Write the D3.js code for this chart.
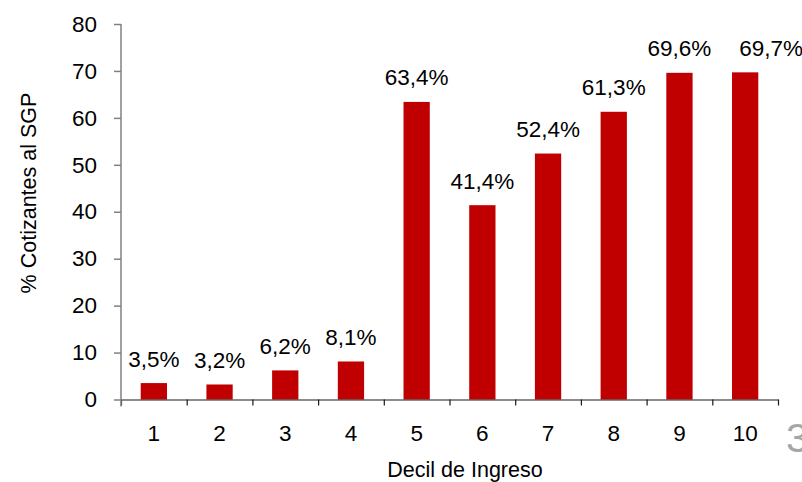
<!DOCTYPE html>
<html>
<head>
<meta charset="utf-8">
<script src="https://cdn.jsdelivr.net/npm/d3@7"></script>
<style>
  html, body { margin: 0; padding: 0; background: #fff; }
  svg { display: block; }
  text { font-family: "Liberation Sans", Arial, sans-serif; fill: #000; }
</style>
</head>
<body>
<svg id="chart" width="802" height="482"></svg>
<script>
// Share of contributors to the pension system by income decile
const deciles = ["1", "2", "3", "4", "5", "6", "7", "8", "9", "10"];
const cotizantes = [3.5, 3.2, 6.2, 8.1, 63.4, 41.4, 52.4, 61.3, 69.6, 69.7];
const yTicks = [0, 10, 20, 30, 40, 50, 60, 70, 80];

const svg = d3.select("#chart");
const plotLeft = 121, plotRight = 778, plotTop = 24, plotBottom = 399.5;

const x = d3.scaleBand()
  .domain(deciles)
  .range([plotLeft, plotRight])
  .paddingInner(0.6)
  .paddingOuter(0.3);

// boundaries between categories, for the tick marks under the axis
const xEdges = d3.scaleLinear().domain([0, deciles.length]).range([plotLeft, plotRight]);

const y = d3.scaleLinear().domain([0, 80]).range([plotBottom, plotTop]);

const fmt = v => d3.format(".1f")(v).replace(".", ",") + "%";

// bars
svg.append("g")
  .selectAll("rect")
  .data(deciles)
  .join("rect")
  .attr("x", d => x(d))
  .attr("width", x.bandwidth())
  .attr("y", (d, i) => y(cotizantes[i]))
  .attr("height", (d, i) => y(0) - y(cotizantes[i]))
  .attr("fill", "#c00000");

// value labels; the last one is nudged right, away from its neighbour
const lastIdx = deciles.length - 1;
svg.append("g")
  .selectAll("text")
  .data(deciles)
  .join("text")
  .attr("x", (d, i) => x(d) + x.bandwidth() / 2 + (i === lastIdx ? 26 : 0))
  .attr("y", (d, i) => y(cotizantes[i]) - 16.5)
  .attr("text-anchor", "middle")
  .style("font-size", "22.5px")
  .text((d, i) => fmt(cotizantes[i]));

// x axis: line and category boundary ticks
const xAxis = svg.append("g")
  .attr("transform", `translate(0,${plotBottom})`)
  .call(d3.axisBottom(xEdges)
    .tickValues(d3.range(0, deciles.length + 1))
    .tickSize(6)
    .tickSizeOuter(0)
    .tickFormat(""));
xAxis.select(".domain").attr("stroke", "#1a1a1a").attr("stroke-width", 1.2);
xAxis.selectAll(".tick line").attr("stroke", "#1a1a1a").attr("stroke-width", 1.2);

// category labels
const xLab = svg.append("g")
  .attr("transform", `translate(0,${plotBottom})`)
  .call(d3.axisBottom(x).tickSize(0).tickPadding(0));
xLab.select(".domain").remove();
xLab.selectAll("text")
  .attr("y", 41.5)
  .attr("dy", null)
  .style("font-size", "22.5px")
  .style("font-family", "'Liberation Sans', Arial, sans-serif")
  .attr("fill", "#000");

// y axis
const yAxis = svg.append("g")
  .attr("transform", `translate(${plotLeft},0)`)
  .call(d3.axisLeft(y)
    .tickValues(yTicks)
    .tickSize(7)
    .tickSizeOuter(0)
    .tickPadding(17));
yAxis.select(".domain")
  .attr("d", `M0,${plotTop}V${plotBottom + 7}`)
  .attr("stroke", "#808080")
  .attr("stroke-width", 1.5);
yAxis.selectAll(".tick line").attr("stroke", "#808080").attr("stroke-width", 1.5);
yAxis.selectAll("text")
  .style("font-size", "22.5px")
  .style("font-family", "'Liberation Sans', Arial, sans-serif")
  .attr("fill", "#000");

// axis titles
svg.append("text")
  .attr("transform", "translate(36,193) rotate(-90)")
  .attr("text-anchor", "middle")
  .style("font-size", "21.5px")
  .text("% Cotizantes al SGP");

svg.append("text")
  .attr("x", 465)
  .attr("y", 477)
  .attr("text-anchor", "middle")
  .style("font-size", "21.5px")
  .text("Decil de Ingreso");

// slide number
svg.append("text")
  .attr("x", 786)
  .attr("y", 452)
  .style("font-size", "41px")
  .style("fill", "#a6a6a6")
  .text("3");
</script>
</body>
</html>
